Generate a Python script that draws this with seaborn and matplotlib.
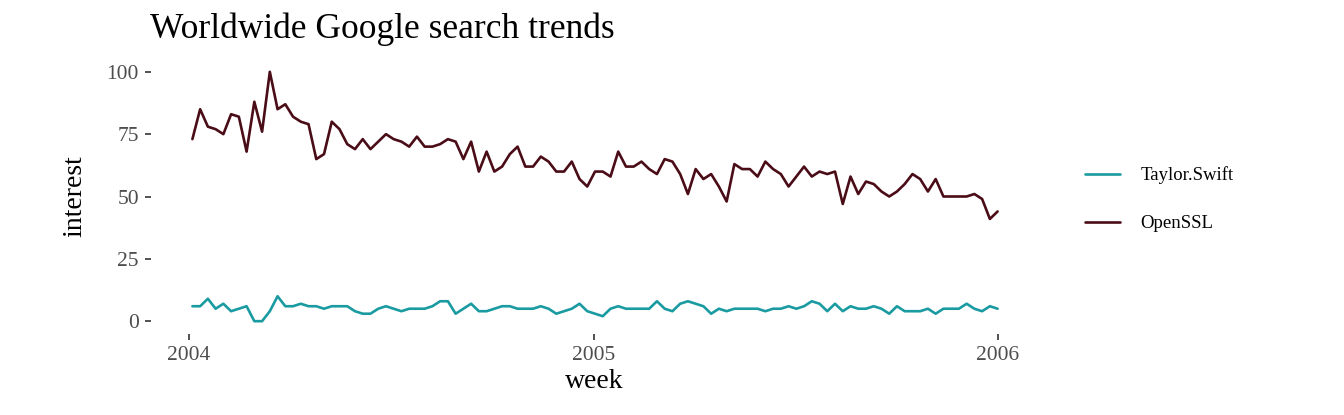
import pandas as pd
import matplotlib
matplotlib.use("Agg")
import matplotlib.pyplot as plt
import matplotlib.dates as mdates
import seaborn as sns

# semanas (domingo) desde 2004-01-04 hasta 2006-01-01
semanas = pd.date_range("2004-01-04", periods=105, freq="W-SUN")

openssl = [73, 85, 78, 77, 75, 83, 82, 68, 88, 76,
           100, 85, 87, 82, 80, 79, 65, 67, 80, 77,
           71, 69, 73, 69, 72, 75, 73, 72, 70, 74,
           70, 70, 71, 73, 72, 65, 72, 60, 68, 60,
           62, 67, 70, 62, 62, 66, 64, 60, 60, 64,
           57, 54, 60, 60, 58, 68, 62, 62, 64, 61,
           59, 65, 64, 59, 51, 61, 57, 59, 54, 48,
           63, 61, 61, 58, 64, 61, 59, 54, 58, 62,
           58, 60, 59, 60, 47, 58, 51, 56, 55, 52,
           50, 52, 55, 59, 57, 52, 57, 50, 50, 50,
           50, 51, 49, 41, 44]

taylor_swift = [6, 6, 9, 5, 7, 4, 5, 6, 0, 0,
                4, 10, 6, 6, 7, 6, 6, 5, 6, 6,
                6, 4, 3, 3, 5, 6, 5, 4, 5, 5,
                5, 6, 8, 8, 3, 5, 7, 4, 4, 5,
                6, 6, 5, 5, 5, 6, 5, 3, 4, 5,
                7, 4, 3, 2, 5, 6, 5, 5, 5, 5,
                8, 5, 4, 7, 8, 7, 6, 3, 5, 4,
                5, 5, 5, 5, 4, 5, 5, 6, 5, 6,
                8, 7, 4, 7, 4, 6, 5, 5, 6, 5,
                3, 6, 4, 4, 4, 5, 3, 5, 5, 5,
                7, 5, 4, 6, 5]

series = ["Taylor.Swift", "OpenSSL"]
colores = {"Taylor.Swift": "#1a9ba1", "OpenSSL": "#4a0c16"}

df = pd.concat([
    pd.DataFrame({"week": semanas, "interest": taylor_swift, "serie": "Taylor.Swift"}),
    pd.DataFrame({"week": semanas, "interest": openssl, "serie": "OpenSSL"}),
])

sns.set_style("white")
plt.rcParams["font.family"] = ["Liberation Serif", "DejaVu Serif"]
plt.rcParams["text.color"] = "black"
plt.rcParams["axes.labelcolor"] = "black"

fig = plt.figure(figsize=(13.44, 4.15), dpi=100)
ax = fig.add_axes([0.1127, 0.196, 0.6592, 0.661])

sns.lineplot(data=df, x="week", y="interest", hue="serie", hue_order=series,
             palette=colores, linewidth=1.9, ax=ax, legend=False)

ax.set_xlim(pd.Timestamp("2003-11-28"), pd.Timestamp("2006-02-06"))
ax.set_ylim(-5, 105)
ax.set_yticks([0, 25, 50, 75, 100])
ax.set_xticks([pd.Timestamp("2004-01-01"), pd.Timestamp("2005-01-01"), pd.Timestamp("2006-01-01")])
ax.xaxis.set_major_formatter(mdates.DateFormatter("%Y"))
ax.tick_params(axis="both", length=4, width=1.2, color="#333333",
               labelcolor="#4d4d4d", labelsize=15.5, pad=5, left=True, bottom=True)
for s in ax.spines.values():
    s.set_visible(False)

ax.set_xlabel("week", fontsize=20, labelpad=3)
ax.set_ylabel("interest", fontsize=20, labelpad=14)
fig.text(0.1116, 0.93, "Worldwide Google search trends", fontsize=25.5, ha="left", va="center")

handles = [plt.Line2D([], [], color=colores[s], linewidth=1.9) for s in series]
fig.legend(handles, series, loc="center left", bbox_to_anchor=(0.795, 0.52), frameon=False,
           fontsize=13.5, handlelength=1.87, labelspacing=1.65, handletextpad=1.07)

fig.savefig("out.png", dpi=100)
